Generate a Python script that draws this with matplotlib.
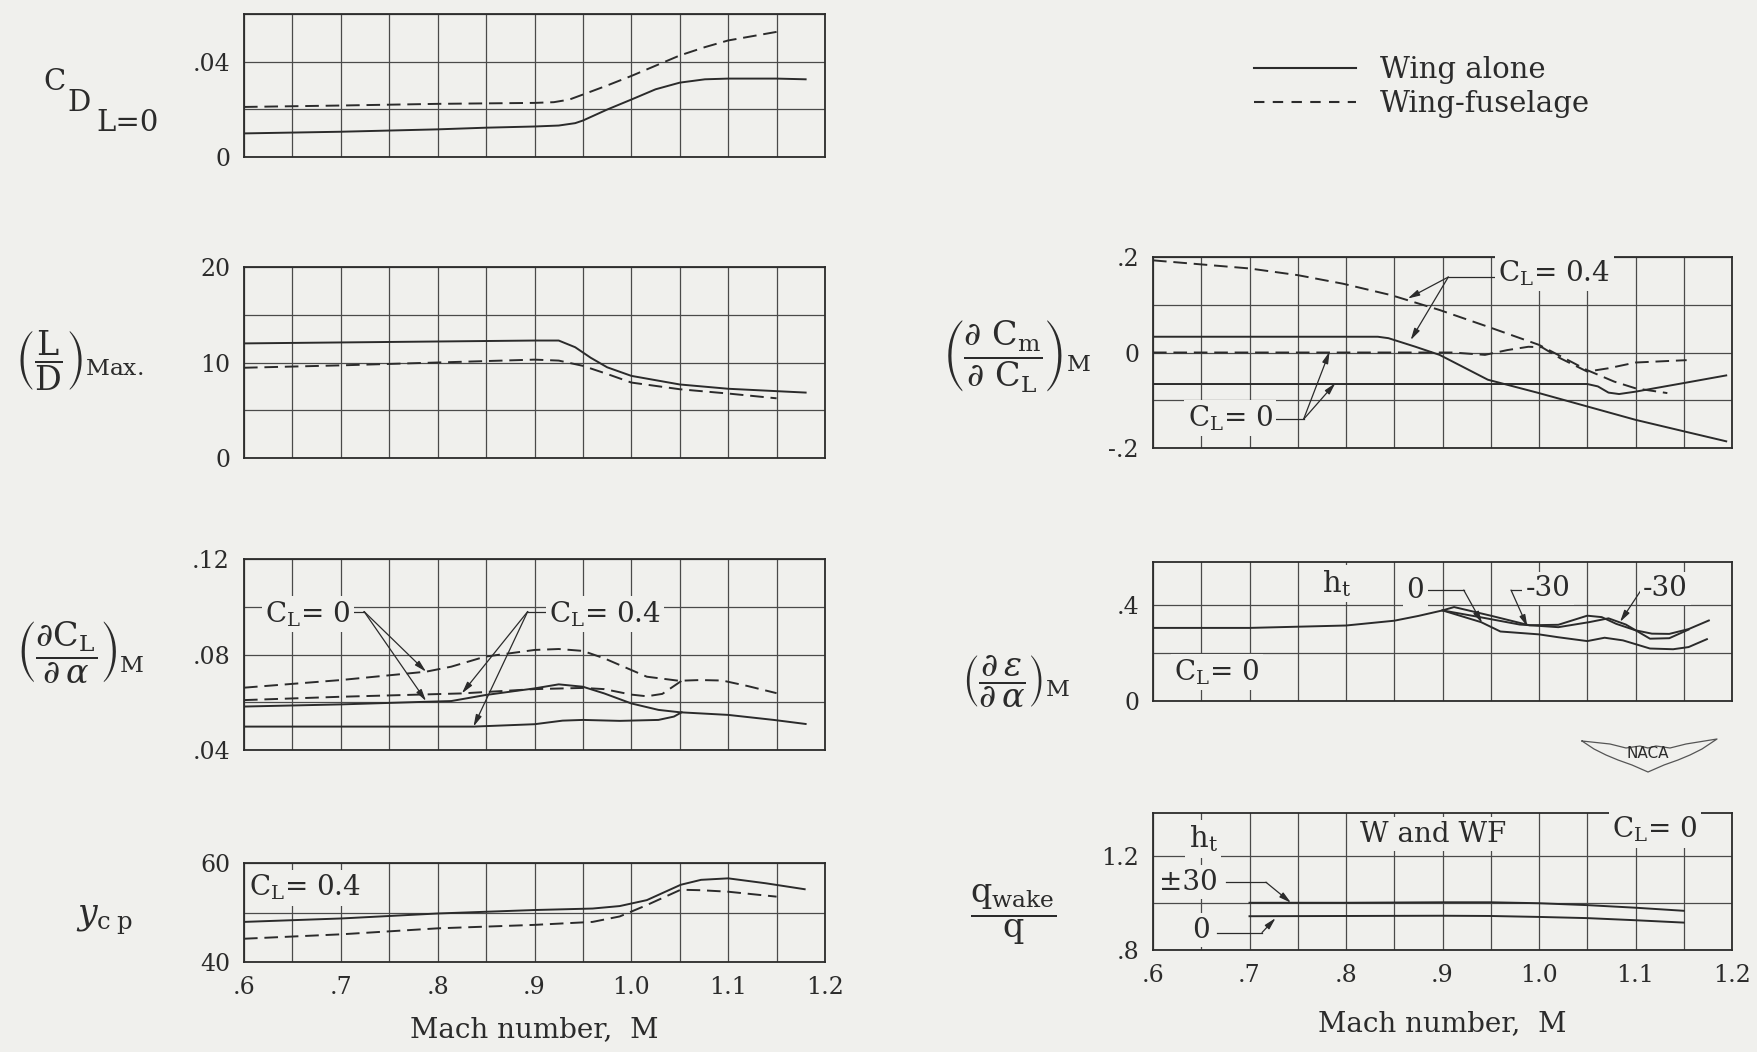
import matplotlib

matplotlib.use("Agg")
import matplotlib.pyplot as plt
import numpy as np
from matplotlib.lines import Line2D
from matplotlib.ticker import FuncFormatter

plt.rcParams["font.family"] = ["DejaVu Serif"]
plt.rcParams["mathtext.fontset"] = "dejavuserif"

BG = "#f0f0ed"
INK = "#2b2b2b"
GRID = "#4a4a4a"
W_PX, H_PX = 1757, 1052
DASH = (7, 3.5)

# ---- C_D at L=0 ----
mach_cd_wa = [0.6, 0.7, 0.8, 0.85, 0.9, 0.925, 0.942, 0.95, 0.975, 1.0, 1.025, 1.05, 1.076, 1.1, 1.15, 1.18]
cd_wa = [0.0099, 0.0106, 0.0116, 0.0123, 0.0128, 0.0132, 0.0142, 0.0153, 0.0199, 0.0241,
         0.0284, 0.0312, 0.0326, 0.0329, 0.0329, 0.0326]
mach_cd_wf = [0.6, 0.7, 0.8, 0.9, 0.92, 0.936, 0.95, 0.975, 1.0, 1.025, 1.05, 1.076, 1.1, 1.15]
cd_wf = [0.021, 0.0216, 0.0223, 0.0227, 0.023, 0.0241, 0.0262, 0.030, 0.034, 0.0383,
         0.0426, 0.0461, 0.0489, 0.0525]

# ---- (L/D) max ----
mach_ld_wa = [0.6, 0.9, 0.925, 0.942, 0.958, 0.975, 1.0, 1.05, 1.1, 1.15, 1.18]
ld_wa = [12.0, 12.3, 12.3, 11.6, 10.5, 9.5, 8.6, 7.7, 7.25, 7.0, 6.85]
mach_ld_wf = [0.6, 0.7, 0.8, 0.9, 0.925, 0.95, 0.975, 1.0, 1.05, 1.1, 1.15]
ld_wf = [9.45, 9.7, 10.0, 10.3, 10.2, 9.65, 8.8, 7.9, 7.2, 6.75, 6.25]

# ---- lift-curve slope ----
mach_cla_wa0 = [0.6, 0.7, 0.788, 0.814, 0.849, 0.9, 0.925, 0.95, 0.972, 1.0, 1.028, 1.05, 1.1, 1.147, 1.18]
cla_wa0 = [0.0582, 0.0591, 0.0602, 0.0605, 0.063, 0.0658, 0.0675, 0.0665, 0.0637, 0.0595,
           0.0568, 0.0558, 0.0547, 0.0526, 0.0509]
mach_cla_wa4 = [0.6, 0.837, 0.9, 0.929, 0.95, 0.988, 1.028, 1.044, 1.052]
cla_wa4 = [0.0498, 0.0498, 0.0508, 0.0523, 0.0526, 0.0522, 0.0526, 0.054, 0.0558]
mach_cla_wf0 = [0.6, 0.7, 0.788, 0.814, 0.849, 0.9, 0.925, 0.95, 0.972, 1.0, 1.016, 1.049,
                1.071, 1.094, 1.12, 1.15]
cla_wf0 = [0.0661, 0.0693, 0.0728, 0.0749, 0.0791, 0.0819, 0.0823, 0.0815, 0.0784, 0.0735,
           0.0707, 0.069, 0.0693, 0.0691, 0.0668, 0.0638]
mach_cla_wf4 = [0.6, 0.7, 0.825, 0.9, 0.95, 0.972, 1.0, 1.016, 1.032, 1.052]
cla_wf4 = [0.0609, 0.0623, 0.0637, 0.0655, 0.066, 0.0655, 0.0632, 0.0625, 0.0635, 0.069]

# ---- spanwise centre of pressure ----
mach_ycp_wa = [0.6, 0.701, 0.8, 0.9, 0.96, 0.988, 1.016, 1.051, 1.072, 1.1, 1.139, 1.179]
ycp_wa = [48.1, 48.8, 49.8, 50.5, 50.8, 51.3, 52.5, 55.6, 56.6, 56.9, 55.9, 54.7]
mach_ycp_wf = [0.6, 0.701, 0.8, 0.9, 0.96, 0.988, 1.016, 1.051, 1.072, 1.1, 1.15]
ycp_wf = [44.7, 45.6, 46.8, 47.5, 48.1, 49.2, 51.5, 54.6, 54.5, 54.2, 53.2]

# ---- pitching-moment slope ----
mach_cm_wf4 = [0.6, 0.7, 0.75, 0.797, 0.847, 0.897, 0.947, 1.0, 1.05, 1.078, 1.1, 1.133]
cm_wf4 = [0.193, 0.176, 0.162, 0.144, 0.12, 0.089, 0.054, 0.016, -0.037, -0.061, -0.075, -0.085]
mach_cm_wf0 = [0.6, 0.911, 0.944, 0.967, 0.989, 1.003, 1.022, 1.05, 1.072, 1.1, 1.153]
cm_wf0 = [0.0, 0.0, -0.005, 0.005, 0.012, 0.011, -0.012, -0.04, -0.033, -0.021, -0.016]
mach_cm_wa4 = [0.6, 0.833, 0.844, 0.872, 0.897, 0.947, 1.0, 1.05, 1.1, 1.15, 1.194]
cm_wa4 = [0.033, 0.033, 0.03, 0.012, -0.005, -0.057, -0.085, -0.113, -0.141, -0.165, -0.186]
mach_cm_wa0 = [0.6, 1.05, 1.061, 1.072, 1.083, 1.1, 1.15, 1.194]
cm_wa0 = [-0.066, -0.066, -0.071, -0.084, -0.087, -0.082, -0.064, -0.048]

# ---- downwash gradient ----
mach_eps_a = [0.6, 0.7, 0.8, 0.85, 0.875, 0.9, 0.912, 0.95, 0.99, 1.02, 1.05, 1.065, 1.08,
              1.1, 1.117, 1.135, 1.155, 1.176]
eps_a = [0.305, 0.305, 0.315, 0.335, 0.355, 0.378, 0.392, 0.356, 0.316, 0.318, 0.356, 0.35,
         0.322, 0.295, 0.281, 0.28, 0.3, 0.336]
mach_eps_b = [0.9, 0.94, 0.98, 1.02, 1.052, 1.072, 1.09, 1.115, 1.135, 1.155]
eps_b = [0.378, 0.349, 0.319, 0.308, 0.329, 0.345, 0.319, 0.26, 0.262, 0.298]
mach_eps_c = [0.9, 0.94, 0.96, 1.0, 1.02, 1.05, 1.068, 1.087, 1.115, 1.139, 1.155, 1.174]
eps_c = [0.378, 0.329, 0.29, 0.278, 0.266, 0.25, 0.264, 0.253, 0.219, 0.216, 0.225, 0.258]

# ---- wake dynamic pressure ----
mach_q = [0.7, 0.8, 0.9, 0.95, 1.0, 1.05, 1.1, 1.15]
q_ht30 = [1.0, 1.0, 1.002, 1.002, 0.998, 0.99, 0.979, 0.966]
q_ht0 = [0.943, 0.944, 0.945, 0.944, 0.94, 0.935, 0.926, 0.916]

X_LABELS = {0.6: ".6", 0.7: ".7", 0.8: ".8", 0.9: ".9", 1.0: "1.0", 1.1: "1.1", 1.2: "1.2"}
MASK = dict(boxstyle="square,pad=0.12", fc=BG, ec="none")


def axes_rect(x0, y0, x1, y1):
    return [x0 / W_PX, 1 - y1 / H_PX, (x1 - x0) / W_PX, (y1 - y0) / H_PX]


def label_formatter(labels):
    def fmt(value, pos):
        for key, text in labels.items():
            if abs(value - key) < 1e-6:
                return text
        return ""

    return FuncFormatter(fmt)


def setup_panel(fig, rect, ylim, ystep, ylabels, show_x=False):
    ax = fig.add_axes(rect)
    ax.set_facecolor(BG)
    ax.set_axisbelow(True)
    ax.set_xlim(0.6, 1.2)
    ax.set_ylim(*ylim)
    ax.set_xticks(np.arange(0.6, 1.2001, 0.05))
    ax.set_yticks(np.arange(ylim[0], ylim[1] + 1e-9, ystep))
    ax.yaxis.set_major_formatter(label_formatter(ylabels))
    ax.xaxis.set_major_formatter(label_formatter(X_LABELS))
    ax.grid(True, color=GRID, lw=0.9)
    ax.tick_params(length=0, labelsize=17, colors=INK, pad=10, labelbottom=show_x)
    for spine in ax.spines.values():
        spine.set_linewidth(1.3)
        spine.set_color(INK)
    return ax


def draw(ax, mach, values, dashed=False):
    line, = ax.plot(mach, values, color=INK, lw=1.4)
    if dashed:
        line.set_dashes(DASH)
    return line


def callout(ax, text, text_xy, leader, tips, ha="left", size=20):
    ax.text(*text_xy, text, ha=ha, va="center", fontsize=size, color=INK, bbox=MASK, zorder=4)
    if leader:
        xs, ys = zip(*leader)
        ax.plot(xs, ys, color=INK, lw=0.9)
    for tip in tips:
        ax.annotate(
            "",
            xy=tip,
            xytext=leader[-1],
            arrowprops=dict(arrowstyle="-|>,head_length=0.7,head_width=0.18",
                            color=INK, lw=0.9, shrinkA=0, shrinkB=0),
        )


fig = plt.figure(figsize=(W_PX / 100, H_PX / 100), dpi=100)
fig.set_facecolor(BG)

CL0 = r"$\mathrm{C}_\mathrm{L}$= 0"
CL4 = r"$\mathrm{C}_\mathrm{L}$= 0.4"

# left column
ax1 = setup_panel(fig, axes_rect(244, 14, 825, 157), (0, 0.06), 0.02, {0: "0", 0.04: ".04"})
draw(ax1, mach_cd_wa, cd_wa)
draw(ax1, mach_cd_wf, cd_wf, dashed=True)

ax2 = setup_panel(fig, axes_rect(244, 267, 825, 458), (0, 20), 5, {0: "0", 10: "10", 20: "20"})
draw(ax2, mach_ld_wa, ld_wa)
draw(ax2, mach_ld_wf, ld_wf, dashed=True)

ax3 = setup_panel(fig, axes_rect(244, 559, 825, 750), (0.04, 0.12), 0.02,
                  {0.04: ".04", 0.08: ".08", 0.12: ".12"})
draw(ax3, mach_cla_wa0, cla_wa0)
draw(ax3, mach_cla_wa4, cla_wa4)
draw(ax3, mach_cla_wf0, cla_wf0, dashed=True)
draw(ax3, mach_cla_wf4, cla_wf4, dashed=True)
callout(ax3, CL0, (0.71, 0.097), [(0.71, 0.098), (0.724, 0.098)],
        [(0.788, 0.0728), (0.788, 0.0605)], ha="right")
callout(ax3, CL4, (0.915, 0.097), [(0.915, 0.098), (0.893, 0.098)],
        [(0.825, 0.0637), (0.837, 0.0498)])

ax4 = setup_panel(fig, axes_rect(244, 863, 825, 962), (40, 60), 10, {40: "40", 60: "60"}, show_x=True)
draw(ax4, mach_ycp_wa, ycp_wa)
draw(ax4, mach_ycp_wf, ycp_wf, dashed=True)
callout(ax4, CL4, (0.605, 55.0), None, [])

# right column
ax5 = setup_panel(fig, axes_rect(1153, 257, 1732, 448), (-0.2, 0.2), 0.1,
                  {-0.2: "-.2", 0: "0", 0.2: ".2"})
draw(ax5, mach_cm_wa4, cm_wa4)
draw(ax5, mach_cm_wa0, cm_wa0)
draw(ax5, mach_cm_wf4, cm_wf4, dashed=True)
draw(ax5, mach_cm_wf0, cm_wf0, dashed=True)
callout(ax5, CL4, (0.958, 0.167), [(0.958, 0.158), (0.906, 0.158)],
        [(0.864, 0.113), (0.867, 0.026)])
callout(ax5, CL0, (0.724, -0.137), [(0.724, -0.14), (0.756, -0.14)],
        [(0.783, 0.002), (0.789, -0.064)], ha="right")

ax6 = setup_panel(fig, axes_rect(1153, 562, 1732, 701), (0, 0.58), 0.2, {0: "0", 0.4: ".4"})
draw(ax6, mach_eps_a, eps_a)
draw(ax6, mach_eps_b, eps_b)
draw(ax6, mach_eps_c, eps_c)
callout(ax6, r"$\mathrm{h}_\mathrm{t}$", (0.79, 0.49), None, [], ha="center", size=21)
callout(ax6, "0", (0.872, 0.463), [(0.884, 0.463), (0.922, 0.463)], [(0.941, 0.325)], ha="center")
callout(ax6, "-30", (0.986, 0.47), [(0.982, 0.463), (0.971, 0.463)], [(0.988, 0.31)])
callout(ax6, "-30", (1.108, 0.47), [(1.107, 0.47)], [(1.084, 0.33)])
callout(ax6, CL0, (0.622, 0.12), None, [])

ax7 = setup_panel(fig, axes_rect(1153, 813, 1732, 950), (0.8, 1.38), 0.2,
                  {0.8: ".8", 1.2: "1.2"}, show_x=True)
draw(ax7, mach_q, q_ht30)
draw(ax7, mach_q, q_ht0)
callout(ax7, r"$\mathrm{h}_\mathrm{t}$", (0.652, 1.27), None, [], ha="center", size=21)
callout(ax7, "±30", (0.637, 1.087), [(0.676, 1.087), (0.717, 1.087)], [(0.743, 1.0)], ha="center")
callout(ax7, "0", (0.65, 0.884), [(0.666, 0.874), (0.713, 0.874)], [(0.727, 0.935)], ha="center")
callout(ax7, "W and WF", (0.89, 1.29), None, [], ha="center")
callout(ax7, CL0, (1.12, 1.31), None, [], ha="center")

# axis titles
fig.text(43 / W_PX, 1 - 82 / H_PX, "C", fontsize=21, color=INK, va="center")
fig.text(67 / W_PX, 1 - 103 / H_PX, "D", fontsize=21, color=INK, va="center")
fig.text(96 / W_PX, 1 - 123 / H_PX, "L=0", fontsize=21, color=INK, va="center")

y_titles = [
    (15, 361, r"$\left(\dfrac{\mathrm{L}}{\mathrm{D}}\right)_{\mathrm{Max.}}$"),
    (16, 652, r"$\left(\dfrac{\partial \mathrm{C}_\mathrm{L}}{\partial\,\alpha}\right)_\mathrm{M}$"),
    (942, 356, r"$\left(\dfrac{\partial\ \mathrm{C}_\mathrm{m}}{\partial\ \mathrm{C}_\mathrm{L}}\right)_\mathrm{M}$"),
    (962, 682, r"$\left(\dfrac{\partial\,\epsilon}{\partial\,\alpha}\right)_\mathrm{M}$"),
    (970, 915, r"$\dfrac{\mathrm{q}_\mathrm{wake}}{\mathrm{q}}$"),
]
for x_px, y_px, text in y_titles:
    fig.text(x_px / W_PX, 1 - y_px / H_PX, text, fontsize=24, color=INK, va="center")
fig.text(76 / W_PX, 1 - 920 / H_PX, r"$y_{\mathrm{c\;p}}$", fontsize=25, color=INK, va="center")

fig.text(534 / W_PX, 1 - 1030 / H_PX, "Mach number,  M", fontsize=20, color=INK, ha="center", va="center")
fig.text(1442 / W_PX, 1 - 1024 / H_PX, "Mach number,  M", fontsize=20, color=INK, ha="center", va="center")

# legend
solid = Line2D([], [], color=INK, lw=1.5)
dashed = Line2D([], [], color=INK, lw=1.5, dashes=(5, 4))
fig.legend([solid, dashed], ["Wing alone", "Wing-fuselage"], loc="upper left",
           bbox_to_anchor=(1228 / W_PX, 1 - 30 / H_PX), frameon=False, fontsize=21,
           handlelength=3.5, handletextpad=0.8, labelspacing=0.2, labelcolor=INK)

# NACA wings badge
wing_x = [1582, 1610, 1626, 1640, 1648, 1656, 1670, 1686, 1717, 1702, 1690, 1678, 1664, 1648,
          1632, 1618, 1606, 1594, 1582]
wing_y = [741, 744, 748, 746, 748, 746, 748, 744, 739, 749, 755, 760, 765, 772, 765, 760, 755,
          749, 741]
fig.add_artist(Line2D(np.array(wing_x) / W_PX, 1 - np.array(wing_y) / H_PX,
                      color="#555555", lw=0.9, transform=fig.transFigure))
fig.text(1648 / W_PX, 1 - 754 / H_PX, "NACA", fontsize=11, family="DejaVu Sans",
         color=INK, ha="center", va="center")

fig.savefig("out.png", dpi=100, facecolor=BG)
